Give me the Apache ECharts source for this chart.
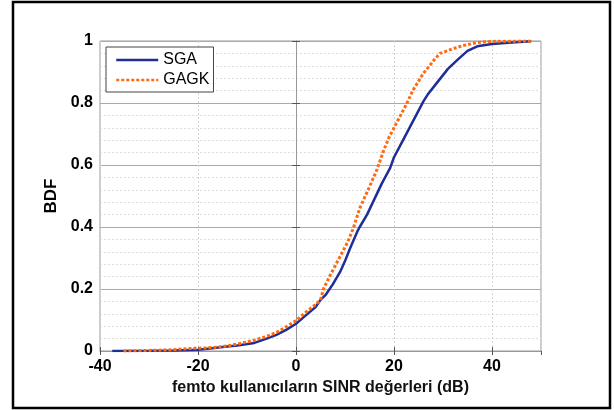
<!DOCTYPE html>
<html>
<head>
<meta charset="utf-8">
<script src="https://cdn.jsdelivr.net/npm/echarts@6/dist/echarts.min.js"></script>
<style>
html,body{margin:0;padding:0;background:#fff;}
#main{width:614px;height:410px;}
</style>
</head>
<body>
<div id="main"></div>
<script>
// SGA (blue, solid)
var sgaX = [-37.5,-30,-25,-20,-17.5,-15,-12,-8.5,-6,-4,-2,0,2,4,5,6,7.5,9,10,11,12.5,13,14.5,16,17.5,19.2,20,21.5,23,24.5,26,27,28.5,30,31,33,35,37,40,44,48];
var sgaY = [0,0.001,0.002,0.004,0.008,0.013,0.018,0.026,0.04,0.052,0.068,0.088,0.115,0.142,0.165,0.18,0.215,0.255,0.29,0.33,0.385,0.4,0.44,0.49,0.54,0.59,0.625,0.67,0.715,0.76,0.805,0.83,0.86,0.89,0.91,0.94,0.968,0.983,0.99,0.995,0.999];
// GAGK (orange, dotted)
var gagkX = [-35.2,-30,-25,-22,-18,-15,-12,-8.5,-6,-4,-2,0,2,4,5,5.6,7,8,9,10.5,11.7,13,15,16.5,17.8,19,21.2,22.5,23.9,26,27,28.5,29.4,32,34,37,40,48];
var gagkY = [0,0.002,0.004,0.008,0.01,0.014,0.022,0.035,0.047,0.06,0.078,0.098,0.125,0.15,0.165,0.2,0.245,0.275,0.305,0.35,0.396,0.46,0.53,0.584,0.643,0.69,0.756,0.795,0.842,0.896,0.915,0.945,0.96,0.975,0.985,0.995,0.999,1.0];

var xName = 'femto kullanıcıların SINR değerleri (dB)';
var yName = 'BDF';

function pairs(xs, ys){
    var out = [];
    for (var i = 0; i < xs.length; i++) out.push([xs[i], ys[i]]);
    return out;
}

var myChart = echarts.init(document.getElementById('main'));
var font = 'Liberation Sans, Arial, Helvetica, sans-serif';
var option = {
    animation: false,
    backgroundColor: '#fff',
    graphic: [{
        type: 'rect',
        shape: {x: 13, y: 2, width: 597, height: 406},
        style: {fill: 'none', stroke: '#000', lineWidth: 2.5},
        silent: true
    }],
    grid: {
        left: 100, right: 73, top: 41, bottom: 59,
        show: true, borderColor: '#999', borderWidth: 1
    },
    legend: {
        orient: 'vertical',
        left: 106, top: 47,
        padding: [5, 4, 4, 9],
        itemWidth: 42, itemHeight: 14, itemGap: 4,
        backgroundColor: '#fff',
        borderColor: '#444', borderWidth: 1,
        itemStyle: {opacity: 0},
        lineStyle: {width: 2.5},
        textStyle: {fontFamily: font, fontSize: 16, color: '#000'},
        data: ['SGA', 'GAGK']
    },
    xAxis: [{
        type: 'value', min: -40, max: 50, interval: 20,
        name: xName, nameLocation: 'middle', nameGap: 28,
        nameTextStyle: {fontFamily: font, fontSize: 16, fontWeight: 'bold', color: '#111'},
        axisLine: {show: true, lineStyle: {color: '#999'}},
        axisTick: {show: true, inside: true, length: 4, lineStyle: {color: '#555'}},
        axisLabel: {showMaxLabel: false, margin: 8, fontFamily: font, fontSize: 16, fontWeight: 'bold', color: '#000'},
        splitLine: {show: true, lineStyle: {color: '#d4d4d4', type: [2, 2]}}
    }, {
        type: 'value', min: -40, max: 50, interval: 20, position: 'top',
        axisLine: {show: false},
        axisTick: {show: true, inside: true, length: 4, lineStyle: {color: '#555'}},
        axisLabel: {show: false},
        splitLine: {show: false}
    }],
    yAxis: [{
        type: 'value', min: 0, max: 1, interval: 0.2,
        name: yName, nameLocation: 'middle', nameGap: 34,
        nameTextStyle: {fontFamily: font, fontSize: 17, fontWeight: 'bold', color: '#000'},
        axisLine: {show: true, lineStyle: {color: '#999'}},
        axisTick: {show: true, inside: true, length: 4, lineStyle: {color: '#555'}},
        axisLabel: {margin: 7, fontFamily: font, fontSize: 16, fontWeight: 'bold', color: '#000'},
        splitLine: {show: true, lineStyle: {color: '#aaa', width: 1}},
        minorTick: {show: false, splitNumber: 5},
        minorSplitLine: {show: true, lineStyle: {color: '#ddd', type: [2, 2]}}
    }, {
        type: 'value', min: 0, max: 1, interval: 0.2, position: 'right',
        axisLine: {show: false},
        axisTick: {show: true, inside: true, length: 4, lineStyle: {color: '#555'}},
        axisLabel: {show: false},
        splitLine: {show: false}
    }],
    series: [{
        name: 'SGA',
        type: 'line',
        symbol: 'none',
        color: '#1f2d96',
        lineStyle: {width: 2.5, color: '#1f2d96'},
        data: pairs(sgaX, sgaY)
    }, {
        name: 'GAGK',
        type: 'line',
        symbol: 'none',
        color: '#ff6a10',
        lineStyle: {width: 3, color: '#ff6a10', type: [3, 2]},
        data: pairs(gagkX, gagkY)
    }]
};
myChart.setOption(option);
</script>
</body>
</html>
